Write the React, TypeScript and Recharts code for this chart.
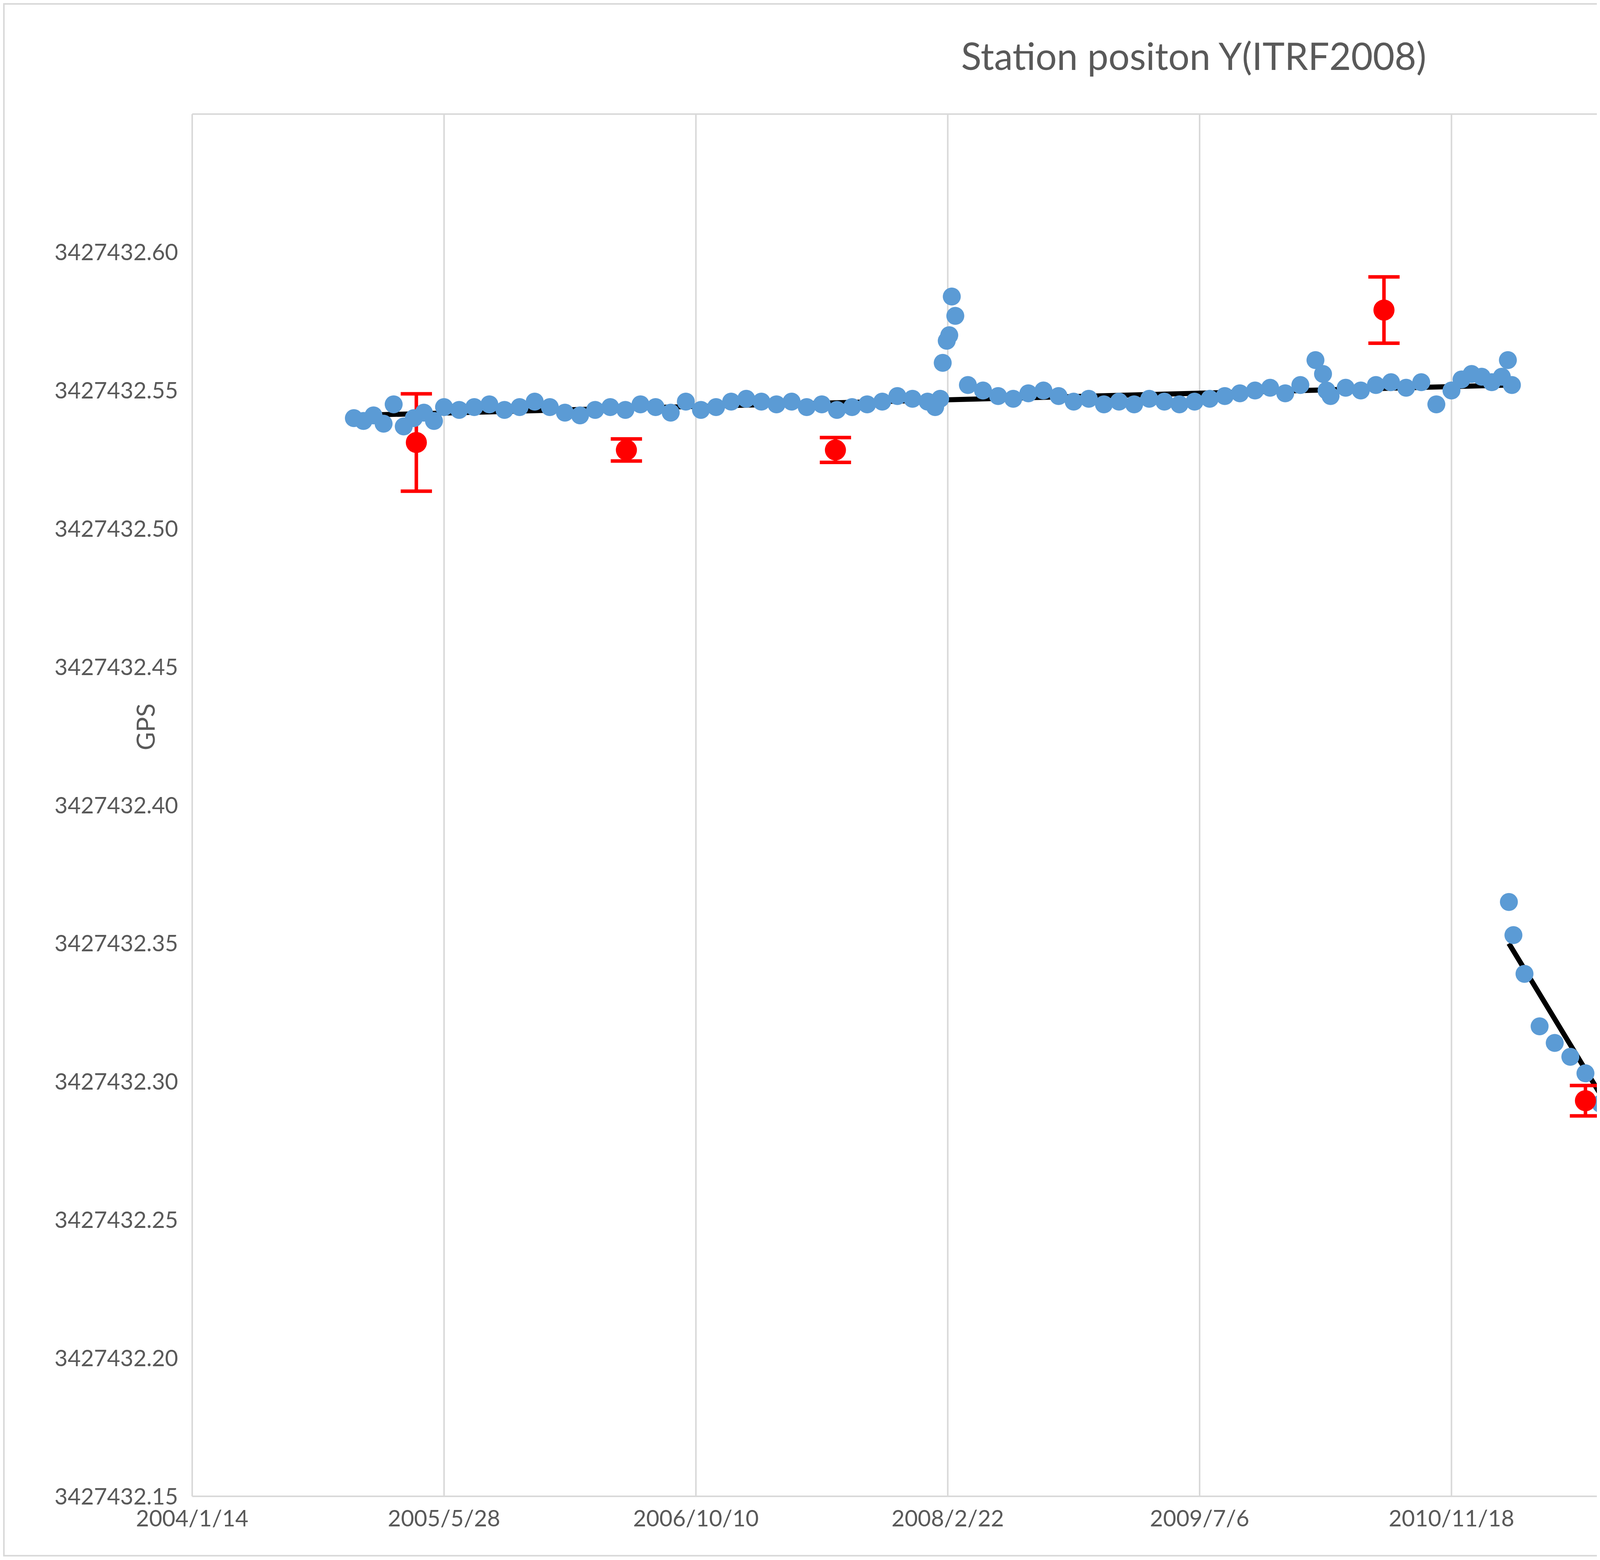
import React from 'react';
import { ComposedChart, Scatter, Line, XAxis, YAxis, CartesianGrid, ErrorBar } from 'recharts';

// x = days since 2004/1/14
const xTicks = [0, 500, 1000, 1500, 2000, 2500, 3000, 3500, 4000];
const xTickLabels = ['2004/1/14', '2005/5/28', '2006/10/10', '2008/2/22', '2009/7/6', '2010/11/18', '2012/4/1', '2013/8/14', '2014/12/27'];
const gpsTicks = [3427432.15, 3427432.2, 3427432.25, 3427432.3, 3427432.35, 3427432.4, 3427432.45, 3427432.5, 3427432.55, 3427432.6, 3427432.65];
const vlbiTicks = [3427427.19, 3427427.24, 3427427.29, 3427427.34, 3427427.39, 3427427.44, 3427427.49, 3427427.54, 3427427.59, 3427427.64, 3427427.69];

const gpsDays = [
  321, 340, 360, 380, 400, 420, 440, 460, 480, 500, 530, 560, 590, 620, 650, 680, 710, 740, 770, 800,
  830, 860, 890, 920, 950, 980, 1010, 1040, 1070, 1100, 1130, 1160, 1190, 1220, 1250, 1280, 1310, 1340,
  1370, 1400, 1430, 1460, 1475, 1485, 1490, 1498, 1503, 1508, 1515, 1540, 1570, 1600, 1630, 1660, 1690,
  1720, 1750, 1780, 1810, 1840, 1870, 1900, 1930, 1960, 1990, 2020, 2050, 2080, 2110, 2140, 2170, 2200,
  2230, 2245, 2252, 2260, 2290, 2320, 2350, 2380, 2410, 2440, 2470, 2500, 2520, 2540, 2560, 2580, 2600,
  2612, 2620,
];
const gpsVals = [
  3427432.540, 3427432.539, 3427432.541, 3427432.538, 3427432.545, 3427432.537, 3427432.540, 3427432.542, 3427432.539, 3427432.544,
  3427432.543, 3427432.544, 3427432.545, 3427432.543, 3427432.544, 3427432.546, 3427432.544, 3427432.542, 3427432.541, 3427432.543,
  3427432.544, 3427432.543, 3427432.545, 3427432.544, 3427432.542, 3427432.546, 3427432.543, 3427432.544, 3427432.546, 3427432.547,
  3427432.546, 3427432.545, 3427432.546, 3427432.544, 3427432.545, 3427432.543, 3427432.544, 3427432.545, 3427432.546, 3427432.548,
  3427432.547, 3427432.546, 3427432.544, 3427432.547, 3427432.560, 3427432.568, 3427432.570, 3427432.584, 3427432.577, 3427432.552,
  3427432.550, 3427432.548, 3427432.547, 3427432.549, 3427432.550, 3427432.548, 3427432.546, 3427432.547, 3427432.545, 3427432.546,
  3427432.545, 3427432.547, 3427432.546, 3427432.545, 3427432.546, 3427432.547, 3427432.548, 3427432.549, 3427432.550, 3427432.551,
  3427432.549, 3427432.552, 3427432.561, 3427432.556, 3427432.550, 3427432.548, 3427432.551, 3427432.550, 3427432.552, 3427432.553,
  3427432.551, 3427432.553, 3427432.545, 3427432.550, 3427432.554, 3427432.556, 3427432.555, 3427432.553, 3427432.555,
  3427432.561, 3427432.552,
];
const gps2Days = [
  2614, 2623, 2645, 2675, 2705, 2736, 2766, 2796, 2826, 2857, 2887, 2917, 2938, 2947, 2977, 3008, 3038,
  3068, 3099, 3129, 3159, 3190, 3214, 3250, 3280, 3311, 3341, 3371, 3401, 3432, 3462, 3492, 3522, 3553,
  3583, 3629, 3644, 3659, 3674, 3689, 3720, 3750, 3780, 3810, 3825,
];
const gps2Vals = [
  3427432.365, 3427432.353, 3427432.339, 3427432.320, 3427432.314, 3427432.309, 3427432.303, 3427432.292, 3427432.294, 3427432.286,
  3427432.283, 3427432.281, 3427432.298, 3427432.278, 3427432.272, 3427432.266, 3427432.264, 3427432.262, 3427432.260, 3427432.257,
  3427432.259, 3427432.254, 3427432.252, 3427432.251, 3427432.245, 3427432.237, 3427432.242, 3427432.240, 3427432.241, 3427432.231,
  3427432.237, 3427432.234, 3427432.230, 3427432.229, 3427432.231, 3427432.237, 3427432.242, 3427432.248, 3427432.235, 3427432.223,
  3427432.219, 3427432.222, 3427432.219, 3427432.220, 3427432.219,
];

const model1Days = [321, 2620];
const model1Vals = [3427432.541, 3427432.552];
const model2Days = [2614, 2807, 2963, 3220, 3825];
const model2Vals = [3427432.350, 3427432.292, 3427432.274, 3427432.251, 3427432.219];

const vlbiDays = [445, 862, 1277, 2366, 2766, 3674];
const vlbiVals = [3427427.5712, 3427427.5685, 3427427.5685, 3427427.6191, 3427427.3331, 3427427.2968];
const vlbiErr = [0.0176, 0.004, 0.0045, 0.012, 0.0055, 0.0094];

const gpsData = [
  ...gpsDays.map((d, i) => ({ x: d, y: gpsVals[i] })),
  ...gps2Days.map((d, i) => ({ x: d, y: gps2Vals[i] })),
];
const model1 = model1Days.map((d, i) => ({ x: d, y: model1Vals[i] }));
const model2 = model2Days.map((d, i) => ({ x: d, y: model2Vals[i] }));
const vlbiData = vlbiDays.map((d, i) => ({ x: d, y: vlbiVals[i], err: vlbiErr[i] }));

const FONT = 'Lato, "Open Sans", sans-serif';
const tickStyle = { fill: '#595959', fontSize: 58, fontFamily: FONT };

const App: React.FC = () => {
  return (
    <div style={{ position: 'relative', width: 6096, height: 3976, background: '#fff', border: '4px solid #d9d9d9', boxSizing: 'border-box', fontFamily: FONT }}>
      <div style={{ position: 'absolute', top: 72, width: '100%', textAlign: 'center', fontSize: 96, color: '#595959' }}>
        Station positon Y(ITRF2008)
      </div>
      <div style={{ position: 'absolute', left: 300, top: 1810, transform: 'rotate(-90deg)', fontSize: 64, color: '#595959' }}>GPS</div>
      <div style={{ position: 'absolute', left: 5880, top: 1800, transform: 'rotate(-90deg)', fontSize: 64, color: '#595959' }}>VLBI</div>
      <div style={{ position: 'absolute', left: 4940, top: 1005, fontSize: 58, color: '#595959', lineHeight: '140px' }}>
        <div style={{ display: 'flex', alignItems: 'center' }}>
          <span style={{ width: 46, height: 46, borderRadius: 23, background: '#5b9bd5', marginLeft: 77, marginRight: 70 }} />Y(GPS)[m]
        </div>
        <div style={{ display: 'flex', alignItems: 'center' }}>
          <span style={{ width: 54, height: 54, borderRadius: 27, background: '#ff0000', marginLeft: 73, marginRight: 50 }} />Y(VLBI)[m]
        </div>
        <div style={{ display: 'flex', alignItems: 'center' }}>
          <span style={{ width: 170, height: 14, background: '#000', marginRight: 14 }} />Position model
        </div>
      </div>
      <ComposedChart width={6088} height={3968} margin={{ top: 280, right: 0, left: 0, bottom: 0 }}>
        <CartesianGrid stroke="#d9d9d9" strokeWidth={4} />
        <XAxis type="number" dataKey="x" domain={[0, 4000]} ticks={xTicks} interval={0}
          tickFormatter={(v: number) => xTickLabels[xTicks.indexOf(v)] ?? ''}
          tick={tickStyle} tickLine={false} axisLine={{ stroke: '#d9d9d9', strokeWidth: 4 }} height={150} tickMargin={30} allowDuplicatedCategory={false} />
        <YAxis yAxisId="left" type="number" dataKey="y" domain={[3427432.15, 3427432.65]} ticks={gpsTicks} interval={0}
          tickFormatter={(v: number) => (v > 3427432.62 ? '' : v.toFixed(2))}
          tick={tickStyle} tickLine={false} axisLine={{ stroke: '#d9d9d9', strokeWidth: 4 }} width={480} tickMargin={30} />
        <YAxis yAxisId="right" orientation="right" type="number" dataKey="y" domain={[3427427.19, 3427427.69]} ticks={vlbiTicks} interval={0}
          tickFormatter={(v: number) => (v > 3427427.66 ? '' : v.toFixed(2))}
          tick={tickStyle} tickLine={false} axisLine={false} width={450} tickMargin={60} />
        <Scatter yAxisId="left" data={gpsData} fill="#5b9bd5" isAnimationActive={false}
          shape={(p: any) => <circle cx={p.cx} cy={p.cy} r={23} fill="#5b9bd5" />} />
        <Line yAxisId="left" data={model1} dataKey="y" stroke="#000" strokeWidth={13} dot={false} isAnimationActive={false} />
        <Line yAxisId="left" data={model2} dataKey="y" stroke="#000" strokeWidth={13} dot={false} isAnimationActive={false} />
        <Scatter yAxisId="right" data={vlbiData} fill="#ff0000" isAnimationActive={false}
          shape={(p: any) => <circle cx={p.cx} cy={p.cy} r={27} fill="#ff0000" />}>
          <ErrorBar dataKey="err" direction="y" stroke="#ff0000" strokeWidth={9} width={40} />
        </Scatter>
      </ComposedChart>
    </div>
  );
};

export default App;
